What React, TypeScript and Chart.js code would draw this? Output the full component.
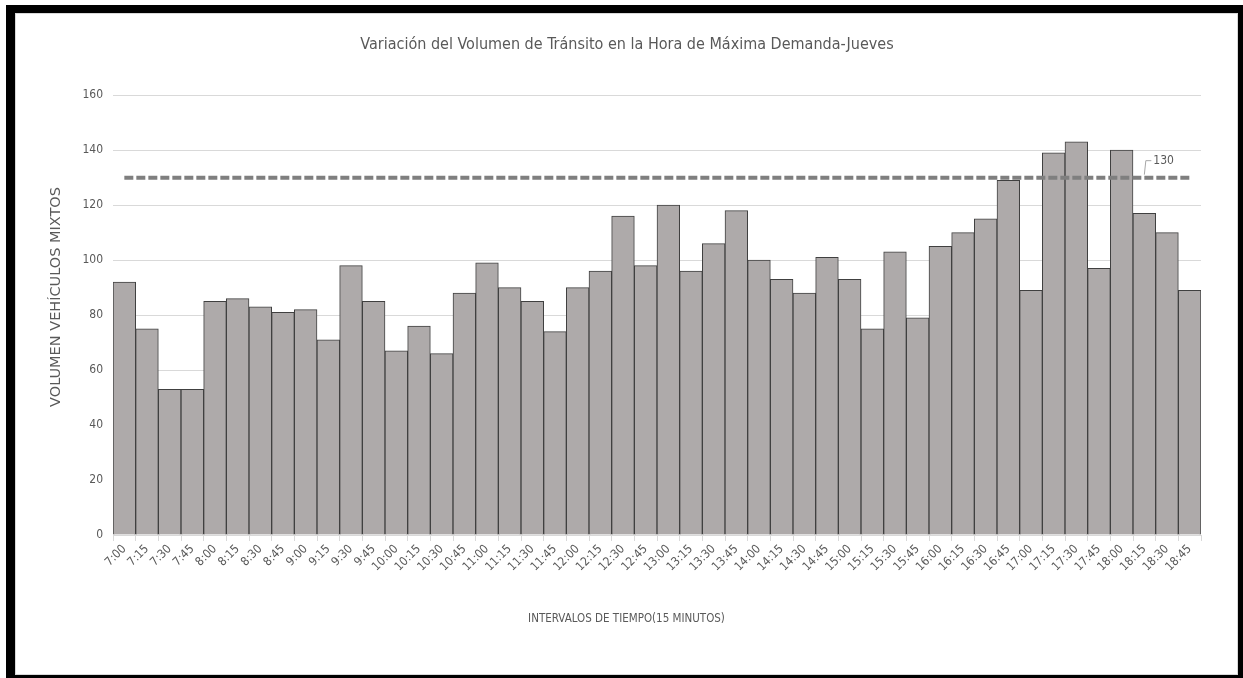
import React, { useEffect, useRef } from "react";
import { Chart, registerables } from "chart.js";

Chart.register(...registerables);

const chartTitle = "Variación del Volumen de Tránsito en la Hora de Máxima Demanda-Jueves";
const xAxisTitle = "INTERVALOS DE TIEMPO(15 MINUTOS)";
const yAxisTitle = "VOLUMEN VEHÍCULOS MIXTOS";

const timeLabels = [
  "7:00", "7:15", "7:30", "7:45",
  "8:00", "8:15", "8:30", "8:45",
  "9:00", "9:15", "9:30", "9:45",
  "10:00", "10:15", "10:30", "10:45",
  "11:00", "11:15", "11:30", "11:45",
  "12:00", "12:15", "12:30", "12:45",
  "13:00", "13:15", "13:30", "13:45",
  "14:00", "14:15", "14:30", "14:45",
  "15:00", "15:15", "15:30", "15:45",
  "16:00", "16:15", "16:30", "16:45",
  "17:00", "17:15", "17:30", "17:45",
  "18:00", "18:15", "18:30", "18:45",
];

const volumes = [
  92, 75, 53, 53,
  85, 86, 83, 81,
  82, 71, 98, 85,
  67, 76, 66, 88,
  99, 90, 85, 74,
  90, 96, 116, 98,
  120, 96, 106, 118,
  100, 93, 88, 101,
  93, 75, 103, 79,
  105, 110, 115, 129,
  89, 139, 143, 97,
  140, 117, 110, 89,
];

const referenceValue = 130;
const referenceSeries = timeLabels.map(() => referenceValue);
const referenceLabelIndex = 45;

const yTicks = [0, 20, 40, 60, 80, 100, 120, 140, 160];

const NARROW = "'Liberation Sans Narrow', 'DejaVu Sans Condensed', 'Roboto Condensed', sans-serif";
const TEXT = "#595959";

const annotationPlugin = {
  id: "annotations",
  afterDatasetsDraw(chart: any) {
    const ctx = chart.ctx;
    const meta = chart.getDatasetMeta(1);
    const pt = meta.data[referenceLabelIndex];
    if (!pt) return;
    const x = pt.x;
    const y = pt.y;
    ctx.save();
    ctx.strokeStyle = "#a6a6a6";
    ctx.lineWidth = 1;
    ctx.beginPath();
    ctx.moveTo(x, y - 3);
    ctx.lineTo(x + 1.5, y - 17);
    ctx.lineTo(x + 7, y - 17);
    ctx.stroke();
    ctx.fillStyle = TEXT;
    ctx.font = `12px ${NARROW}`;
    ctx.textAlign = "left";
    ctx.textBaseline = "middle";
    ctx.fillText(String(referenceValue), x + 9, y - 17);
    ctx.restore();
  },
  afterDraw(chart: any) {
    const ctx = chart.ctx;
    const area = chart.chartArea;
    ctx.save();
    ctx.fillStyle = TEXT;
    ctx.textAlign = "center";
    ctx.textBaseline = "middle";
    ctx.font = `11.5px ${NARROW}`;
    ctx.fillText(xAxisTitle, chart.width / 2, area.bottom + 84);
    ctx.translate(41, 284);
    ctx.rotate(-Math.PI / 2);
    ctx.font = `14.5px 'DejaVu Sans', sans-serif`;
    ctx.fillText(yAxisTitle, 0, 0);
    ctx.restore();
  },
};

export default function App() {
  const canvasRef = useRef<HTMLCanvasElement | null>(null);

  useEffect(() => {
    if (!canvasRef.current) return;
    const chart = new Chart(canvasRef.current, {
      type: "bar",
      data: {
        labels: timeLabels,
        datasets: [
          {
            type: "bar",
            label: "Volumen",
            data: volumes,
            backgroundColor: "#aeaaaa",
            borderColor: "#404040",
            borderWidth: 1,
            barPercentage: 1,
            categoryPercentage: 1,
            order: 2,
          },
          {
            type: "line",
            label: "Referencia",
            data: referenceSeries,
            borderColor: "#7f7f7f",
            borderWidth: 4,
            borderDash: [9, 3],
            pointRadius: 0,
            fill: false,
            order: 1,
          },
        ] as any,
      },
      options: {
        responsive: false,
        animation: false,
        devicePixelRatio: 1,
        layout: { padding: { left: 38, right: 37, top: 0, bottom: 0 } },
        plugins: {
          legend: { display: false },
          tooltip: { enabled: false },
          title: {
            display: true,
            text: chartTitle,
            color: TEXT,
            font: { family: NARROW, size: 16, weight: "normal" },
            padding: { top: 22, bottom: 41 },
          },
        },
        scales: {
          x: {
            offset: true,
            grid: {
              offset: true,
              drawOnChartArea: false,
              drawTicks: true,
              tickLength: 6,
              color: "#d9d9d9",
            },
            border: { color: "#d9d9d9" },
            ticks: {
              color: TEXT,
              font: { family: NARROW, size: 12 },
              minRotation: 45,
              maxRotation: 45,
              autoSkip: false,
              padding: 1,
            },
            afterFit(scale: any) {
              scale.height = 140;
            },
          },
          y: {
            min: 0,
            max: 160,
            afterBuildTicks(scale: any) {
              scale.ticks = yTicks.map((v) => ({ value: v }));
            },
            grid: { color: "#d9d9d9", drawTicks: false },
            border: { display: false },
            ticks: {
              color: TEXT,
              font: { family: NARROW, size: 12 },
              padding: 10,
            },
            afterFit(scale: any) {
              scale.width = 60;
            },
          },
        },
      },
      plugins: [annotationPlugin],
    });
    return () => chart.destroy();
  }, []);

  return (
    <div style={{ position: "absolute", left: 0, top: 0, width: 1243, height: 678, background: "#fff" }}>
      <div
        style={{
          position: "absolute",
          left: 6,
          top: 5,
          width: 1237,
          height: 673,
          boxSizing: "border-box",
          borderStyle: "solid",
          borderColor: "#000",
          borderTopWidth: 8,
          borderLeftWidth: 9,
          borderRightWidth: 5,
          borderBottomWidth: 3,
          boxShadow: "inset 0 0 0 1px #d9d9d9",
        }}
      >
        <canvas ref={canvasRef} width={1223} height={662} style={{ display: "block" }} />
      </div>
    </div>
  );
}
